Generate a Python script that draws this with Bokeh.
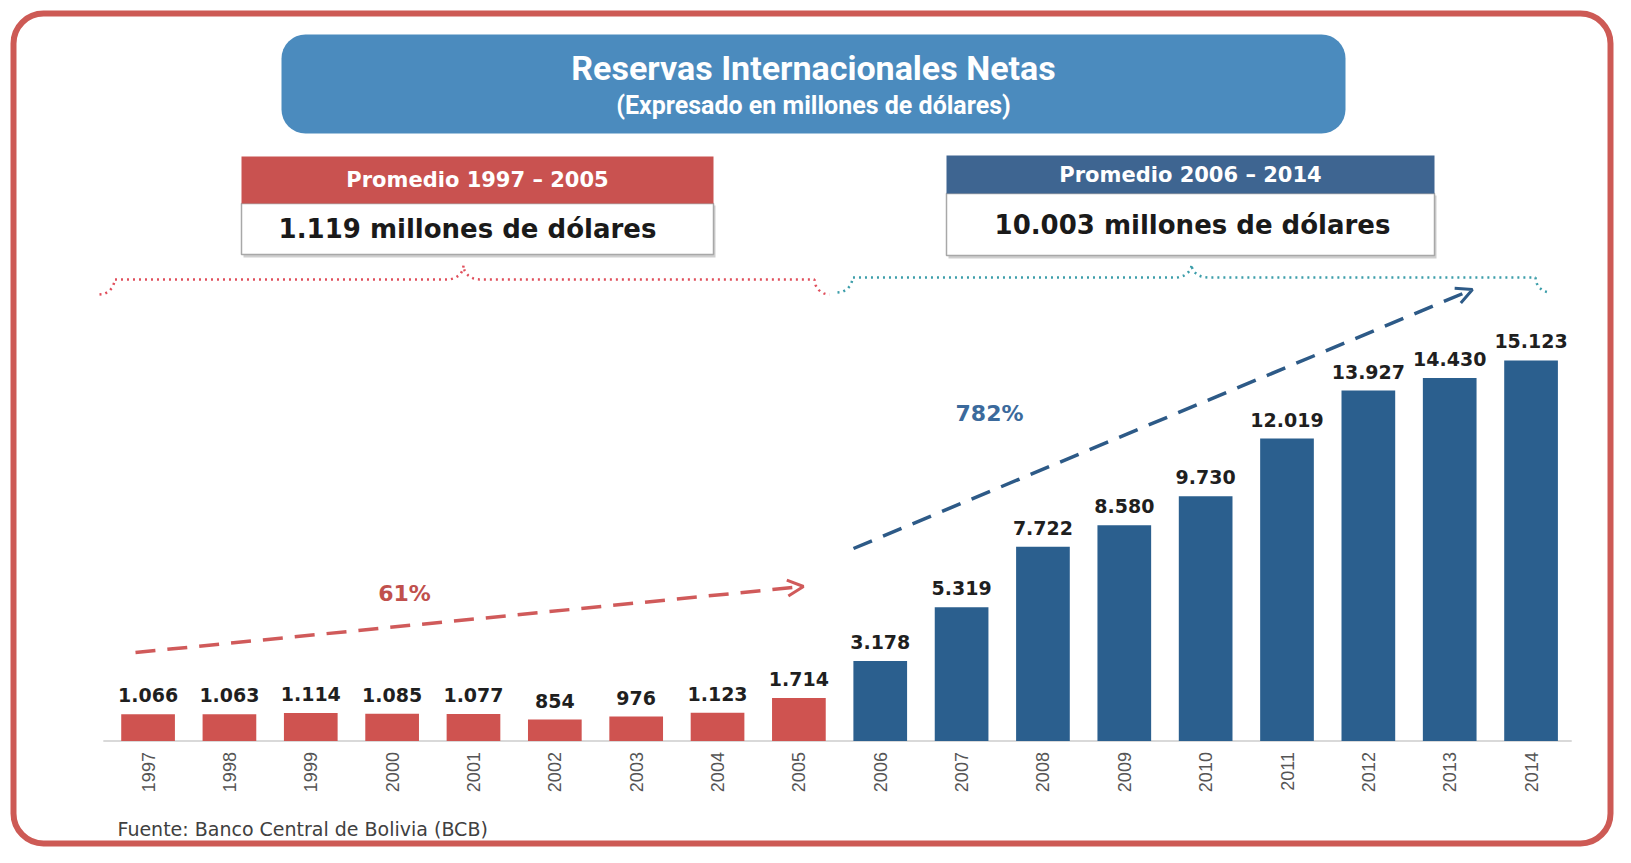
import math
from bokeh.plotting import figure
from bokeh.models import Range1d, BoxAnnotation, Arrow, OpenHead
from bokeh.core.properties import value
from bokeh.embed import file_html
from bokeh.resources import INLINE

# ---------------- data ----------------
years = [1997, 1998, 1999, 2000, 2001, 2002, 2003, 2004, 2005,
         2006, 2007, 2008, 2009, 2010, 2011, 2012, 2013, 2014]
reserves = [1066, 1063, 1114, 1085, 1077, 854, 976, 1123, 1714,
            3178, 5319, 7722, 8580, 9730, 12019, 13927, 14430, 15123]
split_year = 2005
title_text = "Reservas Internacionales Netas"
subtitle_text = "(Expresado en millones de dólares)"
source_text = "Fuente: Banco Central de Bolivia (BCB)"
unit_text = "millones de dólares"

RED = "#cf5350"
BLUE = "#2b5f8e"


def fmt(v):
    return f"{int(round(v)):,}".replace(",", ".")


first = [v for y, v in zip(years, reserves) if y <= split_year]
second = [v for y, v in zip(years, reserves) if y > split_year]
avg1 = sum(first) / len(first)
avg2 = sum(second) / len(second)
growth1 = round((first[-1] / first[0] - 1) * 100)
growth2 = round((second[-1] / first[-1] - 1) * 100)
bar_colors = [RED if y <= split_year else BLUE for y in years]
value_labels = [fmt(v) for v in reserves]
year_labels = [str(y) for y in years]

# ---------------- figure ----------------
W, H = 1615, 847
p = figure(width=W, height=H, output_backend="svg", toolbar_location=None,
           x_range=Range1d(1995.186, 2015.038), y_range=Range1d(-4228, 29427),
           x_axis_location=None, y_axis_location=None, title_location=None,
           min_border=0, outline_line_color=None,
           background_fill_color="white", border_fill_color="white")
p.xgrid.visible = False
p.ygrid.visible = False
# pixel-like ranges for the decorations (canvas coordinates, y downwards)
p.extra_x_ranges = {"px": Range1d(0, W)}
p.extra_y_ranges = {"px": Range1d(H, 0)}
PX = dict(x_range_name="px", y_range_name="px")

TITLE_FONT = value("Roboto")

# outer rounded frame
p.add_layout(BoxAnnotation(left=13, right=1610, top=13, bottom=843,
                           fill_alpha=0, line_color="#cd5a55", line_alpha=1, line_width=6,
                           border_radius=30, level="underlay", **PX))
# title box
p.add_layout(BoxAnnotation(left=281, right=1345, top=34, bottom=133,
                           fill_color="#4b8bbe", fill_alpha=1, line_color=None,
                           border_radius=24, level="underlay", **PX))
p.text(x=[813], y=[67], text=[title_text], text_align="center", text_baseline="middle",
       text_font=TITLE_FONT, text_font_style="bold",
       text_font_size="34px", text_color="white", **PX)
p.text(x=[813], y=[105], text=[subtitle_text], text_align="center", text_baseline="middle",
       text_font=TITLE_FONT, text_font_style="bold",
       text_font_size="25px", text_color="white", **PX)


# period boxes
def period_box(l, r, t, m, b, col, head, body, hx, hy, bx, by):
    p.quad(left=[l + 2], right=[r + 2], top=[m + 2], bottom=[b + 3],
           fill_color="#cfcfcf", line_color=None, **PX)
    p.quad(left=[l], right=[r], top=[m], bottom=[b], fill_color="white",
           line_color="#a8a8a8", line_width=1.5, **PX)
    p.quad(left=[l], right=[r], top=[t], bottom=[m], fill_color=col,
           line_color=None, **PX)
    p.text(x=[hx], y=[hy], text=[head], text_align="center", text_baseline="middle",
           text_font=value("DejaVu Sans"), text_font_style="bold",
           text_font_size="21px", text_color="white", **PX)
    p.text(x=[bx], y=[by], text=[body], text_align="center", text_baseline="middle",
           text_font=value("DejaVu Sans"), text_font_style="bold",
           text_font_size="26px", text_color="#1a1a1a", **PX)


period_box(241, 713, 156, 203, 254, "#c95250",
           f"Promedio {years[0]} – {split_year}", f"{fmt(avg1)} {unit_text}",
           477, 179, 467, 228)
period_box(946, 1434, 155, 193, 255, "#3e6591",
           f"Promedio {split_year + 1} – {years[-1]}", f"{fmt(avg2)} {unit_text}",
           1190, 174, 1192, 224)


# dotted braces
def brace(x0, x1, xm, y_line, y_end, y_peak, col, r=15, r2=16):
    xs, ys = [], []
    n = 8
    for i in range(n + 1):
        t = i / n * math.pi / 2
        xs.append(x0 + r * math.sin(t)); ys.append(y_line + (y_end - y_line) * math.cos(t))
    for i in range(n + 1):
        t = i / n * math.pi / 2
        xs.append(xm - r2 + r2 * math.sin(t)); ys.append(y_line - (y_line - y_peak) * (1 - math.cos(t)))
    for i in range(n + 1):
        t = (n - i) / n * math.pi / 2
        xs.append(xm + r2 - r2 * math.sin(t)); ys.append(y_line - (y_line - y_peak) * (1 - math.cos(t)))
    for i in range(n + 1):
        t = (n - i) / n * math.pi / 2
        xs.append(x1 - r * math.sin(t)); ys.append(y_line + (y_end - y_line) * math.cos(t))
    p.line(x=xs, y=ys, line_color=col, line_width=2.5, line_dash="2 4", **PX)


brace(99, 829, 463, 279, 294, 265, "#e04f5c")
brace(837, 1550, 1191, 277, 292, 264, "#3d9eaa")

# baseline
p.line(x=[years[0] - 0.55, years[-1] + 0.5], y=[0, 0], line_color="#d9d9d9", line_width=2)

# bars
p.vbar(x=years, top=reserves, bottom=0, width=0.66, fill_color=bar_colors, line_color=None)

# value labels
p.text(x=years, y=reserves, text=value_labels, text_align="center", text_baseline="middle",
       y_offset=-19, text_font=value("DejaVu Sans"), text_font_style="bold",
       text_font_size="19px", text_color="#1f1f1f")

# year labels
p.text(x=years, y=[0] * len(years), text=year_labels, angle=math.pi / 2,
       text_align="right", text_baseline="middle", y_offset=11,
       text_font=value("Liberation Sans"), text_font_size="18px", text_color="#555555")

# growth arrows
p.add_layout(Arrow(end=OpenHead(size=16, line_color="#d05a5a", line_width=3),
                   x_start=135, y_start=652, x_end=803, y_end=586,
                   line_color="#d05a5a", line_width=3.5, line_dash="20 12", **PX))
p.add_layout(Arrow(end=OpenHead(size=16, line_color="#2d5a87", line_width=3),
                   x_start=853, y_start=548, x_end=1472, y_end=289,
                   line_color="#2d5a87", line_width=3.5, line_dash="20 12", **PX))
p.text(x=[404], y=[593], text=[f"{growth1}%"], text_align="center", text_baseline="middle",
       text_font=value("DejaVu Sans"), text_font_style="bold", text_font_size="22px",
       text_color="#c0504d", **PX)
p.text(x=[989], y=[413], text=[f"{growth2}%"], text_align="center", text_baseline="middle",
       text_font=value("DejaVu Sans"), text_font_style="bold", text_font_size="22px",
       text_color="#3b6a9c", **PX)

# source
p.text(x=[117], y=[828], text=[source_text], text_align="left", text_baseline="middle",
       text_font=value("DejaVu Sans"), text_font_size="19px", text_color="#404040", **PX)

open("out.html", "w").write(file_html(p, INLINE))
